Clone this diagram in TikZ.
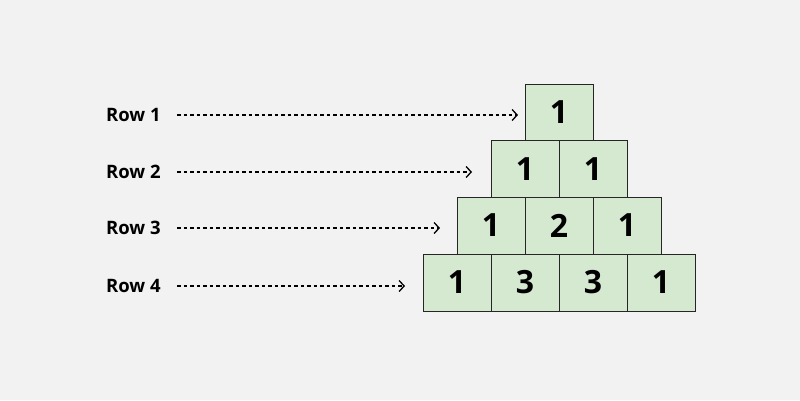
\documentclass[tikz,border=0pt]{standalone}
\usepackage{fontspec}
\setmainfont{Open Sans}
\usetikzlibrary{arrows.meta}
\definecolor{bg}{HTML}{F2F2F2}
\definecolor{cell}{HTML}{D5E8D0}
\tikzset{
  cellbox/.style={draw=black!85, line width=0.8pt, fill=cell, minimum width=68pt, minimum height=57pt, inner sep=0pt, font=\fontsize{32}{32}\selectfont\bfseries},
  rowlab/.style={anchor=west, inner sep=0pt, font=\fontsize{18.5}{18.5}\selectfont\bfseries},
  ptr/.style={dashed, dash pattern=on 3.5pt off 3pt, line width=1.3pt, -{Straight Barb[length=5pt,width=11pt]}}
}
\begin{document}
\begin{tikzpicture}[x=1pt,y=-1pt]
\fill[bg] (0,0) rectangle (800,400);
\useasboundingbox (0,0) rectangle (800,400);
\node[cellbox] (a1) at (559,112.5) {1};
\node[cellbox] (b1) at (525,169) {1};
\node[cellbox] (b2) at (593,169) {1};
\node[cellbox] (c1) at (491,225.5) {1};
\node[cellbox] (c2) at (559,225.5) {2};
\node[cellbox] (c3) at (627,225.5) {1};
\node[cellbox] (d1) at (457,282.5) {1};
\node[cellbox] (d2) at (525,282.5) {3};
\node[cellbox] (d3) at (593,282.5) {3};
\node[cellbox] (d4) at (661,282.5) {1};
\node[rowlab] (r1) at (106,115) {Row 1};
\node[rowlab] (r2) at (106,172) {Row 2};
\node[rowlab] (r3) at (106,228) {Row 3};
\node[rowlab] (r4) at (106,286) {Row 4};
\coordinate (e1) at (518,115);
\coordinate (e2) at (472,172);
\coordinate (e3) at (440,228);
\coordinate (e4) at (405,286);
\draw[ptr] (177,115) -- (e1);
\draw[ptr] (177,172) -- (e2);
\draw[ptr] (177,228) -- (e3);
\draw[ptr] (177,286) -- (e4);
\end{tikzpicture}
\end{document}
